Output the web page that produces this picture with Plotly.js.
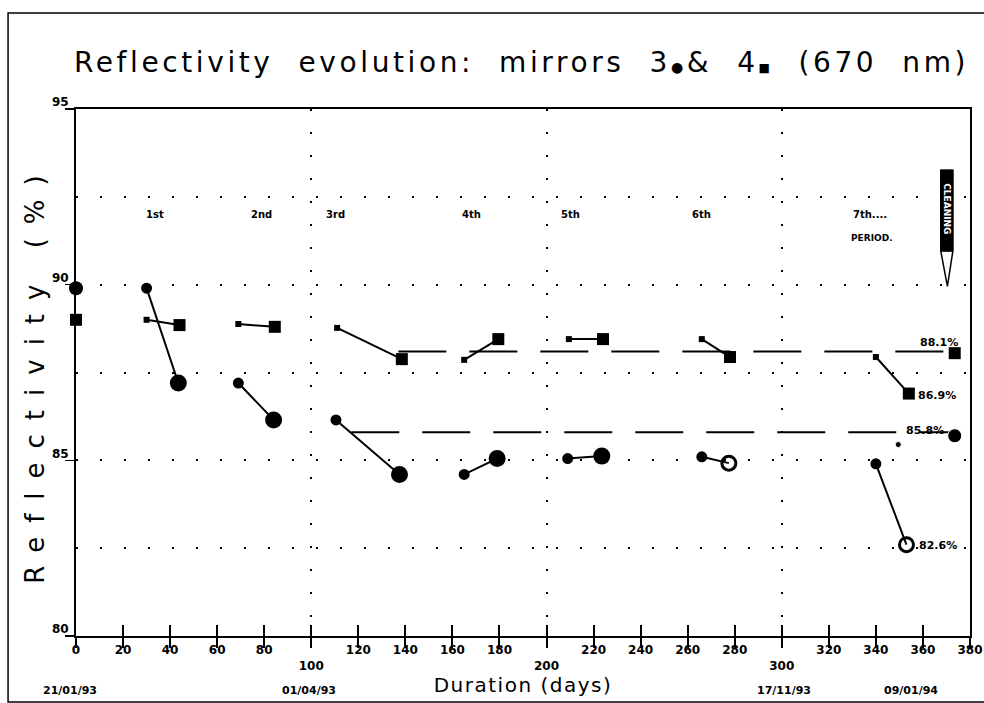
<!DOCTYPE html>
<html>
<head>
<meta charset="utf-8">
<script src="https://cdn.plot.ly/plotly-3.0.1.min.js"></script>
<style>
  html, body { margin: 0; padding: 0; background: #fff; }
  #chart { width: 984px; height: 703px; }
  .gtitle { letter-spacing: 3.6px; }
  .g-ytitle text { letter-spacing: 14px; }
  .g-xtitle text { letter-spacing: 1.5px; }
</style>
</head>
<body>
<div id="chart"></div>
<script>
// ---- Data ----
// Mirror 3 (circles): each cleaning period starts (small marker) and ends (large marker)
const m3StartDay = [30, 69, 110.5, 165, 209, 266, 340];
const m3StartR   = [89.9, 87.2, 86.15, 84.6, 85.05, 85.1, 84.9];
const m3EndDay   = [43.5, 84, 137.5, 179, 223.5, 277.5, 353];
const m3EndR     = [87.2, 86.15, 84.6, 85.05, 85.12, 84.92, 82.6];
const m3EndOpen  = [false, false, false, false, false, true, true];

// Mirror 4 (squares)
const m4StartDay = [30, 69, 111, 165, 209.5, 266, 340];
const m4StartR   = [89.0, 88.88, 88.77, 87.86, 88.45, 88.45, 87.94];
const m4EndDay   = [44, 84.5, 138.5, 179.5, 224, 278, 354];
const m4EndR     = [88.85, 88.8, 87.88, 88.45, 88.45, 87.94, 86.9];

// Initial values (day 0) and values after the last cleaning
const initDay = [0];
const m3InitR = [89.9];
const m4InitR = [89.0];
const m3AfterDay = [349.5, 373.5];
const m3AfterR   = [85.45, 85.7];
const m4AfterDay = [373.5];
const m4AfterR   = [88.05];

// Mean levels (dashed lines)
const m3MeanDay = [117, 373.5];
const m3MeanR   = [85.8, 85.8];
const m4MeanDay = [137, 373.5];
const m4MeanR   = [88.1, 88.1];

// Period labels
const periodLabels = ['1st', '2nd', '3rd', '4th', '5th', '6th', '7th....'];
const periodLabelDay = [33.5, 79, 110.5, 168, 210, 266, 337.5];

// Value labels at the end
const valueLabels = ['88.1%', '86.9%', '85.8%', '82.6%'];
const valueLabelDay = [358, 357, 352, 357.5];
const valueLabelR   = [88.35, 86.85, 85.85, 82.58];

// Axis ticks
const xTicks = [0,20,40,60,80,100,120,140,160,180,200,220,240,260,280,300,320,340,360,380];
const xTickText = xTicks.map(v => (v === 100 || v === 200 || v === 300) ? '<br>' + v : String(v));
const dateLabels = ['21/01/93', '01/04/93', '17/11/93', '09/01/94'];
const dateLabelDay = [-2.5, 99, 301, 355];
const yTicks = [80, 85, 90, 95];
const yMinorGrid = [82.5, 87.5, 92.5];

const X_MIN = 0, X_MAX = 380;

// ---- Build segment traces ----
function segments(sx, sy, ex, ey, openArr, symClosed, symOpen, small, big) {
  const x = [], y = [], size = [], sym = [];
  for (let i = 0; i < sx.length; i++) {
    x.push(sx[i], ex[i], null);
    y.push(sy[i], ey[i], null);
    size.push(small, big, 0);
    sym.push(symClosed, (openArr && openArr[i]) ? symOpen : symClosed, symClosed);
  }
  return {x, y, size, sym};
}

const s3 = segments(m3StartDay, m3StartR, m3EndDay, m3EndR, m3EndOpen, 'circle', 'circle-open', 8, 14);
const s4 = segments(m4StartDay, m4StartR, m4EndDay, m4EndR, null, 'square', 'square', 6, 12);

const traces = [
  { x: m3MeanDay, y: m3MeanR, mode: 'lines', line: {color: '#000', width: 2, dash: '48px,23px'}, hoverinfo: 'skip', cliponaxis: false },
  { x: m4MeanDay, y: m4MeanR, mode: 'lines', line: {color: '#000', width: 2, dash: '48px,23px'}, hoverinfo: 'skip', cliponaxis: false },
  { x: s3.x, y: s3.y, mode: 'lines+markers', connectgaps: false, cliponaxis: false,
    line: {color: '#000', width: 2},
    marker: {color: '#000', opacity: 1, size: s3.size, symbol: s3.sym, line: {color: '#000', width: 3}} },
  { x: s4.x, y: s4.y, mode: 'lines+markers', connectgaps: false, cliponaxis: false,
    line: {color: '#000', width: 2},
    marker: {color: '#000', opacity: 1, size: s4.size, symbol: s4.sym, line: {width: 0}} },
  { x: initDay, y: m3InitR, mode: 'markers', cliponaxis: false, marker: {color: '#000', opacity: 1, size: 14, symbol: 'circle'} },
  { x: initDay, y: m4InitR, mode: 'markers', cliponaxis: false, marker: {color: '#000', opacity: 1, size: 12, symbol: 'square'} },
  { x: m3AfterDay, y: m3AfterR, mode: 'markers', cliponaxis: false, marker: {color: '#000', opacity: 1, size: [6, 14], symbol: 'circle'} },
  { x: m4AfterDay, y: m4AfterR, mode: 'markers', cliponaxis: false, marker: {color: '#000', opacity: 1, size: 12, symbol: 'square'} },
  // helper traces so the overlay axes are drawn
  { x: [], y: [], xaxis: 'x2', mode: 'markers', hoverinfo: 'skip' },
  { x: [], y: [], xaxis: 'x3', mode: 'markers', hoverinfo: 'skip' }
];

const tickFont = {family: 'DejaVu Sans', size: 12, color: '#000', weight: 'bold'};
const labelFont = {family: 'DejaVu Sans', size: 10, color: '#000', weight: 'bold'};

const annotations = [];
periodLabels.forEach((t, i) => annotations.push({
  x: periodLabelDay[i], y: 92.0, xref: 'x', yref: 'y', text: t, showarrow: false,
  font: labelFont, xanchor: 'center', yanchor: 'middle'
}));
annotations.push({x: 338.5, y: 91.33, xref: 'x', yref: 'y', text: 'PERIOD.', showarrow: false,
  font: {family: 'DejaVu Sans', size: 9, color: '#000', weight: 'bold'}, xanchor: 'center', yanchor: 'middle'});
valueLabels.forEach((t, i) => annotations.push({
  x: valueLabelDay[i], y: valueLabelR[i], xref: 'x', yref: 'y', text: t, showarrow: false,
  font: {family: 'DejaVu Sans', size: 11, color: '#000', weight: 'bold'}, xanchor: 'left', yanchor: 'middle'
}));
// date labels: placed on the day scale converted to paper fraction (so the one at day 0 is not hidden)
dateLabels.forEach((t, i) => annotations.push({
  x: (dateLabelDay[i] - X_MIN) / (X_MAX - X_MIN), y: -0.103, xref: 'paper', yref: 'paper', text: t, showarrow: false,
  font: {family: 'DejaVu Sans', size: 11, color: '#000', weight: 'bold'}, xanchor: 'center', yanchor: 'middle'
}));
annotations.push({x: 370.2, y: 92.15, xref: 'x', yref: 'y', text: 'CLEANING', textangle: 90, showarrow: false,
  font: {family: 'DejaVu Sans', size: 9, color: '#fff', weight: 'bold'}, xanchor: 'center', yanchor: 'middle'});

const shapes = [
  // outer frame (open on the right, as in the scan)
  {type: 'path', xref: 'paper', yref: 'paper',
   path: 'M 1.02 1.182 L -0.076 1.182 L -0.076 -0.125 L 1.02 -0.125',
   line: {color: '#000', width: 1.5}},
  // CLEANING marker
  {type: 'path', xref: 'x', yref: 'y',
   path: 'M 367.6 93.26 L 372.7 93.26 L 372.7 90.95 L 370.4 89.95 L 367.6 90.95 Z',
   line: {color: '#000', width: 1.5}, fillcolor: '#fff'},
  {type: 'rect', xref: 'x', yref: 'y', x0: 367.6, x1: 372.7, y0: 90.95, y1: 93.26,
   line: {color: '#000', width: 1}, fillcolor: '#000'}
];

const layout = {
  width: 984, height: 703,
  margin: {l: 76, r: 14, t: 109, b: 67},
  paper_bgcolor: '#fff', plot_bgcolor: '#fff',
  showlegend: false,
  title: {
    text: 'Reflectivity  evolution:  mirrors  3<span style="font-size:14px">●</span>&  4<span style="font-size:12px">■</span>  (670  nm)',
    font: {family: 'DejaVu Sans', size: 28, color: '#000'},
    x: 0.53, xref: 'container', xanchor: 'center',
    y: 0.912, yref: 'container', yanchor: 'middle'
  },
  xaxis: {
    range: [X_MIN, X_MAX], tickvals: xTicks, ticktext: xTickText,
    ticks: 'outside', ticklen: 10, tickwidth: 2, tickcolor: '#000',
    tickfont: tickFont, ticklabelstandoff: -8,
    showline: true, linewidth: 2, linecolor: '#000', mirror: true,
    showgrid: false, zeroline: false,
    title: {text: 'Duration (days)', font: {family: 'DejaVu Sans', size: 20, color: '#000'}, standoff: 0}
  },
  xaxis2: {
    overlaying: 'x', anchor: 'y', range: [X_MIN, X_MAX], tickvals: xTicks,
    ticks: 'inside', ticklen: 11, tickwidth: 2, tickcolor: '#000',
    showticklabels: false, showline: false, showgrid: false, zeroline: false
  },
  xaxis3: {
    overlaying: 'x', anchor: 'y', range: [X_MIN, X_MAX], tickvals: [100, 200, 300],
    ticks: '', showticklabels: false, showline: false, zeroline: false,
    showgrid: true, gridcolor: '#000', gridwidth: 2, griddash: '2px,21px'
  },
  yaxis: {
    range: [80, 95], tickvals: yTicks, ticktext: yTicks.map(String),
    ticks: 'outside', ticklen: 9, tickwidth: 1.5, tickcolor: '#000',
    tickfont: tickFont, ticklabelshift: -7, ticklabelstandoff: -6,
    showline: true, linewidth: 2, linecolor: '#000', mirror: true,
    showgrid: true, gridcolor: '#000', gridwidth: 2, griddash: '2px,22px',
    minor: {tickvals: yMinorGrid, ticks: '', showgrid: true, gridcolor: '#000', gridwidth: 2, griddash: '2px,22px'},
    zeroline: false,
    title: {text: 'Reflectivity (%)', font: {family: 'DejaVu Sans', size: 26, color: '#000'}, standoff: 0}
  },
  annotations: annotations,
  shapes: shapes
};

Plotly.newPlot('chart', traces, layout, {displayModeBar: false, staticPlot: true});
</script>
</body>
</html>
